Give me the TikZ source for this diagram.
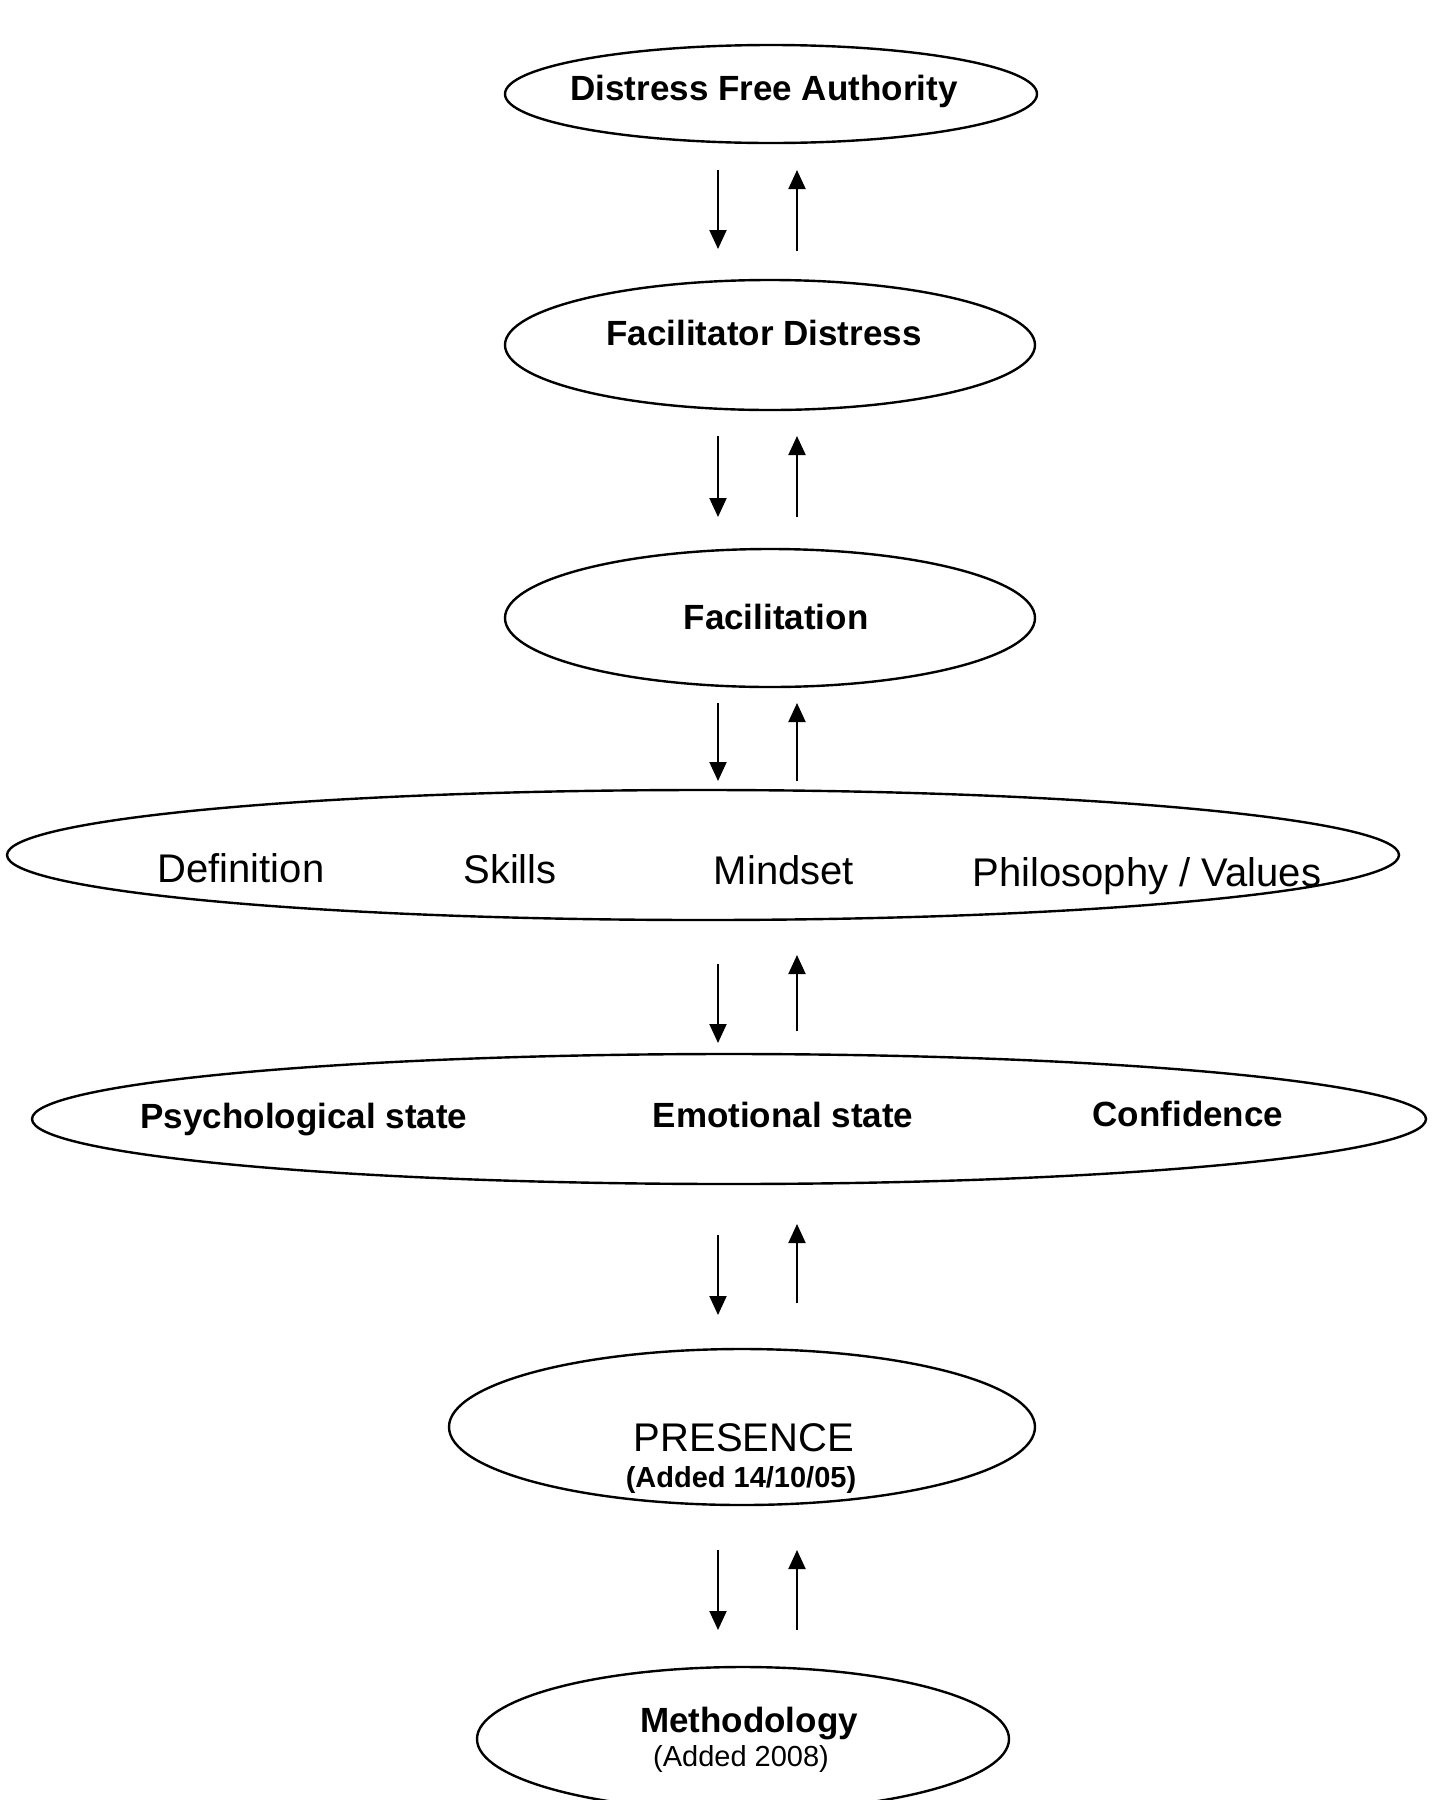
\documentclass[tikz,border=0pt]{standalone}
\usepackage{fontspec}
\setmainfont{Liberation Sans}
\usetikzlibrary{shapes.geometric,arrows.meta}
\begin{document}
\begin{tikzpicture}[x=0.5pt,y=-0.5pt,
  oval/.style={draw,ellipse,line width=1.2pt,inner sep=0pt},
  bt/.style={font=\bfseries\fontsize{17.5}{20}\selectfont,inner sep=0pt},
  rt/.style={font=\fontsize{20}{24}\selectfont,inner sep=0pt},
  bs/.style={font=\bfseries\fontsize{14.5}{17}\selectfont,inner sep=0pt},
  rs/.style={font=\fontsize{14.5}{17}\selectfont,inner sep=0pt},
  arr/.style={-{Triangle[width=8.5pt,length=9.5pt]},line width=1pt}]
\useasboundingbox (0,0) rectangle (1433,1800);
% ellipses
\node[oval,minimum width=266pt,minimum height=49pt] (e1) at (771,94) {};
\node[oval,minimum width=265pt,minimum height=65pt] (e2) at (770,345) {};
\node[oval,minimum width=265pt,minimum height=69pt] (e3) at (770,618) {};
\node[oval,minimum width=696pt,minimum height=65pt] (e4) at (703,855) {};
\node[oval,minimum width=697pt,minimum height=65pt] (e5) at (729,1119) {};
\node[oval,minimum width=293pt,minimum height=78pt] (e6) at (742,1427) {};
\node[oval,minimum width=266pt,minimum height=72pt] (e7) at (743,1739) {};
% texts
\node[bt] (t1) at (764,91) {Distress Free Authority};
\node[bt] (t2) at (764,333) {Facilitator Distress};
\node[bt] (t3) at (776,617) {Facilitation};
\node[rt] (t4a) at (241,868) {Definition};
\node[rt] (t4b) at (510,869) {Skills};
\node[rt] (t4c) at (784,870) {Mindset};
\node[rt] (t4d) at (1147,876) {Philosophy / Values};
\node[bt] (t5a) at (304,1120) {Psychological state};
\node[bt] (t5b) at (783,1115) {Emotional state};
\node[bt] (t5c) at (1188,1114) {Confidence};
\node[rt] (t6a) at (744,1438) {PRESENCE};
\node[bs] (t6b) at (741,1480) {(Added 14/10/05)};
\node[bt] (t7a) at (749,1724) {Methodology};
\node[rs] (t7b) at (741,1759) {(Added 2008)};
% arrow end points
\coordinate (d1s) at (718,170); \coordinate (d1e) at (718,249);
\coordinate (u1s) at (797,251); \coordinate (u1e) at (797,170);
\coordinate (d2s) at (718,436); \coordinate (d2e) at (718,517);
\coordinate (u2s) at (797,517); \coordinate (u2e) at (797,436);
\coordinate (d3s) at (718,703); \coordinate (d3e) at (718,781);
\coordinate (u3s) at (797,781); \coordinate (u3e) at (797,703);
\coordinate (d4s) at (718,964); \coordinate (d4e) at (718,1043);
\coordinate (u4s) at (797,1031); \coordinate (u4e) at (797,955);
\coordinate (d5s) at (718,1235); \coordinate (d5e) at (718,1315);
\coordinate (u5s) at (797,1303); \coordinate (u5e) at (797,1224);
\coordinate (d6s) at (718,1550); \coordinate (d6e) at (718,1630);
\coordinate (u6s) at (797,1630); \coordinate (u6e) at (797,1550);
\foreach \i in {1,...,6}{
  \draw[arr] (d\i s) -- (d\i e);
  \draw[arr] (u\i s) -- (u\i e);
}
\end{tikzpicture}
\end{document}
